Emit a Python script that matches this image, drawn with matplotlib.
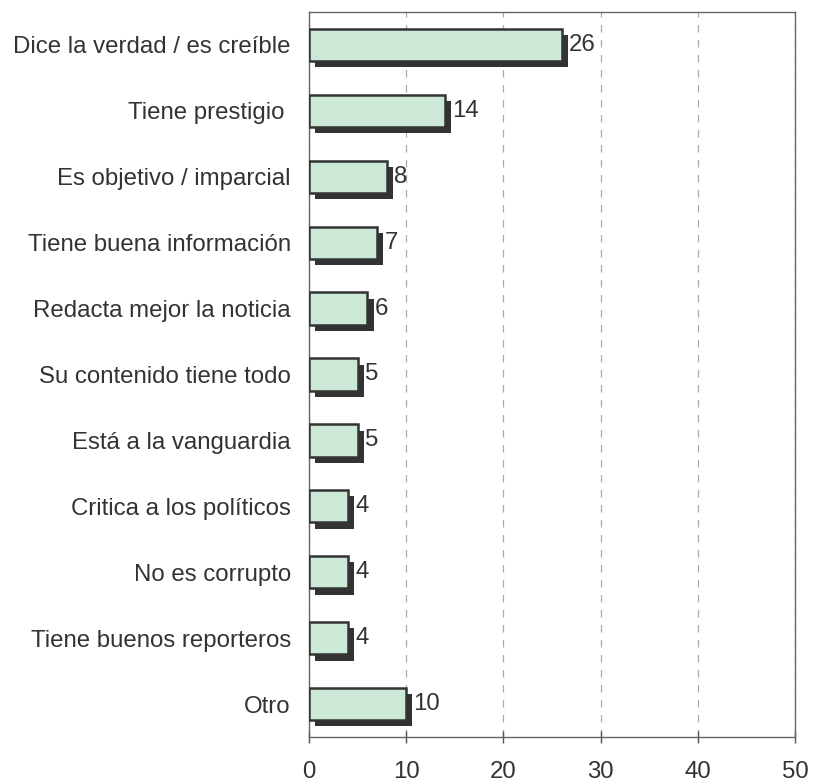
import matplotlib
matplotlib.use("Agg")
import matplotlib.pyplot as plt
import matplotlib.patheffects as pe

plt.rcParams["font.family"] = ["Liberation Sans", "DejaVu Sans"]

# ── Data ─────────────────────────────────────────────────────────────────────
categories = [
    "Dice la verdad / es creíble",
    "Tiene prestigio ",
    "Es objetivo / imparcial",
    "Tiene buena información",
    "Redacta mejor la noticia",
    "Su contenido tiene todo",
    "Está a la vanguardia",
    "Critica a los políticos",
    "No es corrupto",
    "Tiene buenos reporteros",
    "Otro",
]
values = [26, 14, 8, 7, 6, 5, 5, 4, 4, 4, 10]
x_ticks = [0, 10, 20, 30, 40, 50]

TEXT = "#333333"
FILL = "#cce8d6"
DARK = "#333333"
FS = 17.3

fig = plt.figure(figsize=(8.39, 7.82), dpi=100)
ax = fig.add_axes([0.3683, 0.0575, 0.5793, 0.9272])

pos = list(range(len(categories)))
bars = ax.barh(pos, values, height=0.49, color=FILL, edgecolor=DARK, linewidth=1.8, zorder=3)
for b in bars:
    b.set_path_effects([
        pe.SimplePatchShadow(offset=(4.5, -4.5), shadow_rgbFace=DARK, alpha=1.0),
        pe.Normal(),
    ])

for p, v in zip(pos, values):
    ax.text(v + 0.75, p, str(v), va="center", ha="left", fontsize=FS, color=TEXT, zorder=4)

ax.set_xlim(0, 50)
ax.set_ylim(len(categories) - 0.5, -0.5)
ax.set_xticks(x_ticks)
ax.set_yticks(pos)
ax.set_yticklabels(categories)
ax.tick_params(axis="y", length=0, pad=13, labelsize=FS, labelcolor=TEXT)
ax.tick_params(axis="x", direction="inout", length=9, width=1, color="#555555",
               pad=13, labelsize=FS, labelcolor=TEXT)

ax.grid(axis="x", linestyle=(0, (6, 6)), color="#b0a8a8", linewidth=0.9, zorder=0)
for s in ax.spines.values():
    s.set_color("#666666")
    s.set_linewidth(1.0)

fig.savefig("out.png", dpi=100)
